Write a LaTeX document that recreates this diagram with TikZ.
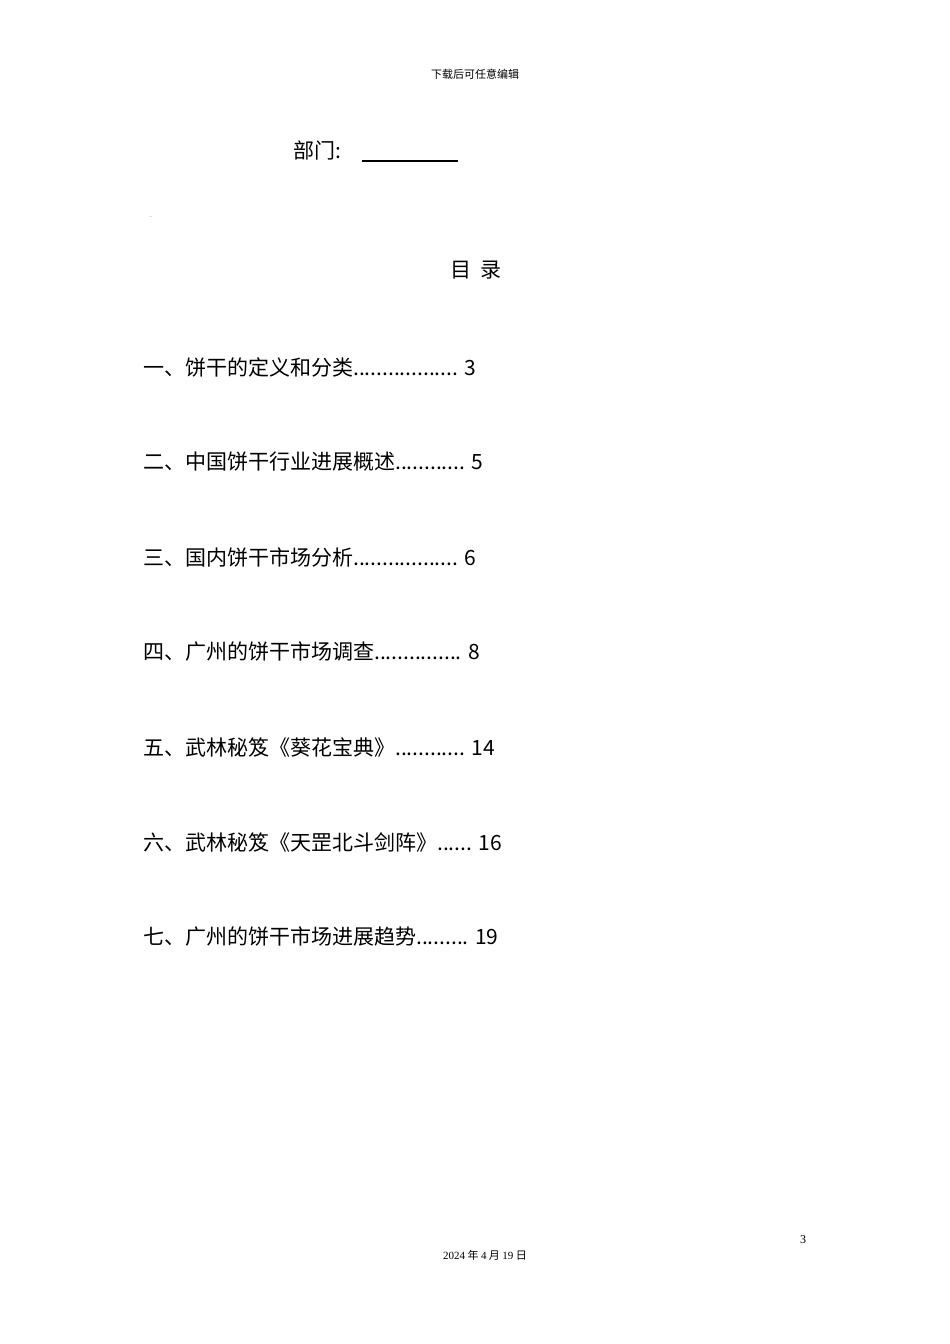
\documentclass[tikz,border=0pt]{standalone}
\usepackage{fontspec}
\setmainfont{Noto Sans CJK SC}
\newfontfamily\serifcjk{Noto Sans CJK SC}
\newfontfamily\lsans{Liberation Serif}
\begin{document}
\begin{tikzpicture}[x=1pt,y=1pt,
  toc/.style={anchor=west,inner sep=0pt,font=\fontsize{21}{24}\selectfont},
  small/.style={inner sep=0pt,font=\fontsize{11}{13}\selectfont}]
\useasboundingbox[fill=white] (0,0) rectangle (950,-1344);
\node[small] (hdr) at (475,-74) {下载后可任意编辑};
\node[toc,anchor=west] (dept) at (293,-150) {部门:};
\coordinate (u1) at (362,-161); \coordinate (u2) at (458,-161);
\draw[line width=2pt] (u1) -- (u2);
\node[small,text=gray,font=\fontsize{6}{7}\selectfont] (mark) at (150,-217) {~..};
\node[inner sep=0pt,font=\fontsize{21}{24}\selectfont] (title) at (476,-270) {目\ \ 录};
\node[toc] (t1) at (143,-367) {一、饼干的定义和分类.................. 3};
\node[toc] (t2) at (143,-462) {二、中国饼干行业进展概述............ 5};
\node[toc] (t3) at (143,-557) {三、国内饼干市场分析.................. 6};
\node[toc] (t4) at (143,-652) {四、广州的饼干市场调查............... 8};
\node[toc] (t5) at (143,-747) {五、武林秘笈《葵花宝典》............ 14};
\node[toc] (t6) at (143,-842) {六、武林秘笈《天罡北斗剑阵》...... 16};
\node[toc] (t7) at (143,-937) {七、广州的饼干市场进展趋势......... 19};
\node[small,font=\lsans\fontsize{12}{14}\selectfont] (pg) at (803,-1240) {3};
\node[small] (date) at (485,-1255) {{\lsans 2024} 年 {\lsans 4} 月 {\lsans 19} 日};
\end{tikzpicture}
\end{document}
